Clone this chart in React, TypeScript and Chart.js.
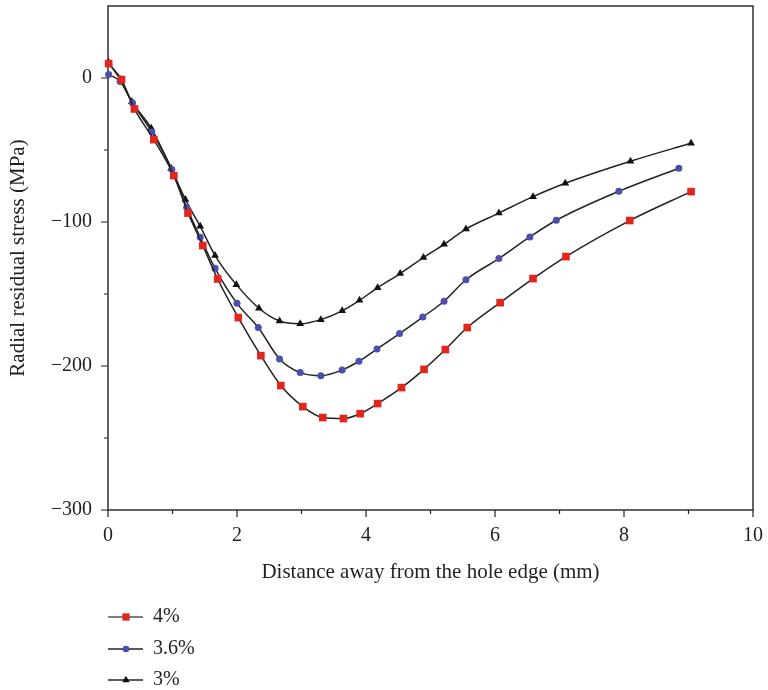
import React, { useEffect, useRef } from 'react';
import { Chart, registerables } from 'chart.js';

Chart.register(...registerables);

// ---- Data ----
const SERIES_LABELS = ['4%', '3.6%', '3%'];

const X_4 = [0.01, 0.21, 0.41, 0.71, 1.02, 1.24, 1.47, 1.70, 2.02, 2.37, 2.68, 3.02, 3.33, 3.65, 3.91, 4.18, 4.55, 4.90, 5.23, 5.57, 6.08, 6.59, 7.10, 8.09, 9.04];
const Y_4 = [10, -1.1, -21.5, -42.8, -67.8, -93.8, -116.4, -139.6, -166.4, -192.8, -213.6, -228.2, -235.8, -236.5, -233.1, -226.1, -215, -202.3, -188.6, -173.3, -156, -139.3, -124, -99, -78.9];

const X_36 = [0.01, 0.19, 0.38, 0.68, 0.99, 1.22, 1.43, 1.66, 2.00, 2.33, 2.66, 2.98, 3.30, 3.63, 3.89, 4.17, 4.52, 4.88, 5.21, 5.55, 6.06, 6.54, 6.95, 7.92, 8.85];
const Y_36 = [2.4, -2.5, -17.4, -37.5, -63.6, -90, -110.6, -132.2, -156.5, -173.3, -195.1, -204.6, -206.7, -202.8, -196.7, -188.2, -177.5, -166, -155, -140.1, -125.4, -110.4, -98.8, -78.7, -62.7];

const X_3 = [0.01, 0.19, 0.37, 0.67, 0.98, 1.20, 1.43, 1.66, 1.99, 2.34, 2.66, 2.98, 3.30, 3.63, 3.90, 4.18, 4.53, 4.89, 5.21, 5.55, 6.06, 6.59, 7.09, 8.10, 9.04];
const Y_3 = [10.7, -1.1, -16.5, -34.9, -62.9, -84.4, -103, -123.3, -143.5, -159.9, -168.8, -170.7, -167.8, -161.7, -154.4, -145.6, -135.8, -124.7, -115.5, -104.9, -93.8, -82.4, -73.1, -57.8, -45.3];

const X_TICKS = [0, 2, 4, 6, 8, 10];
const X_MINOR = [1, 3, 5, 7, 9];
const Y_TICKS = [-300, -200, -100, 0];
const Y_MINOR = [-250, -150, -50];

const X_TITLE = 'Distance away from the hole edge (mm)';
const Y_TITLE = 'Radial residual stress (MPa)';

// ---- Styles ----
const FONT = "'Liberation Serif', 'Times New Roman', serif";
const TEXT_COLOR = '#231f20';
const LINE_COLOR = '#222';
const MARKERS = [
  { style: 'rect', color: '#e1261c', radius: 5.4 },
  { style: 'circle', color: '#4a4fae', radius: 3.5 },
  { style: 'triangle', color: '#111', radius: 4.5 },
];

const toPoints = (xs: number[], ys: number[]) => xs.map((x, i) => ({ x, y: ys[i] }));
const SERIES = [toPoints(X_4, Y_4), toPoints(X_36, Y_36), toPoints(X_3, Y_3)];

const fmt = (v: number) => (v < 0 ? '\u2212' + Math.abs(v) : String(v));

function drawMarker(ctx: CanvasRenderingContext2D, style: string, x: number, y: number, r: number, color: string) {
  ctx.fillStyle = color;
  ctx.beginPath();
  if (style === 'rect') {
    const s = Math.SQRT1_2 * r;
    ctx.rect(x - s, y - s, 2 * s, 2 * s);
  } else if (style === 'circle') {
    ctx.arc(x, y, r, 0, Math.PI * 2);
  } else {
    let a = 0;
    ctx.moveTo(x + Math.sin(a) * r, y - Math.cos(a) * r);
    a += (2 * Math.PI) / 3;
    ctx.lineTo(x + Math.sin(a) * r, y - Math.cos(a) * r);
    a += (2 * Math.PI) / 3;
    ctx.lineTo(x + Math.sin(a) * r, y - Math.cos(a) * r);
    ctx.closePath();
  }
  ctx.fill();
}

const framePlugin = {
  id: 'frameTicks',
  beforeDatasetsDraw(chart: any) {
    const { ctx, chartArea: a, scales } = chart;
    const xs = scales.x;
    const ys = scales.y;
    ctx.save();
    ctx.strokeStyle = LINE_COLOR;
    ctx.lineWidth = 1.4;
    ctx.strokeRect(a.left, a.top, a.right - a.left, a.bottom - a.top);
    ctx.lineWidth = 1.2;
    ctx.beginPath();
    X_TICKS.forEach((v) => {
      const p = xs.getPixelForValue(v);
      ctx.moveTo(p, a.bottom);
      ctx.lineTo(p, a.bottom + 7);
    });
    X_MINOR.forEach((v) => {
      const p = xs.getPixelForValue(v);
      ctx.moveTo(p, a.bottom);
      ctx.lineTo(p, a.bottom + 4);
    });
    Y_TICKS.forEach((v) => {
      const p = ys.getPixelForValue(v);
      ctx.moveTo(a.left, p);
      ctx.lineTo(a.left - 7, p);
    });
    Y_MINOR.forEach((v) => {
      const p = ys.getPixelForValue(v);
      ctx.moveTo(a.left, p);
      ctx.lineTo(a.left - 4, p);
    });
    ctx.stroke();
    ctx.restore();
  },
  afterDraw(chart: any) {
    const { ctx, chartArea: a } = chart;
    ctx.save();
    const rows = [107, 139, 170];
    SERIES_LABELS.forEach((label, i) => {
      const y = a.bottom + rows[i];
      const x0 = a.left;
      ctx.strokeStyle = i === 0 ? '#555' : LINE_COLOR;
      ctx.lineWidth = 1.5;
      ctx.beginPath();
      ctx.moveTo(x0, y);
      ctx.lineTo(x0 + 35, y);
      ctx.stroke();
      const m = MARKERS[i];
      drawMarker(ctx, m.style, x0 + 18, y, m.radius * 0.95, m.color);
      ctx.fillStyle = TEXT_COLOR;
      ctx.font = `20px ${FONT}`;
      ctx.textBaseline = 'middle';
      ctx.textAlign = 'left';
      ctx.fillText(label, x0 + 45, y);
    });
    ctx.restore();
  },
};

export default function App() {
  const ref = useRef<HTMLCanvasElement | null>(null);

  useEffect(() => {
    document.body.style.margin = '0';
    const canvas = ref.current;
    if (!canvas) return;
    const chart = new Chart(canvas, {
      type: 'line',
      data: {
        datasets: SERIES.map((pts, i) => ({
          label: SERIES_LABELS[i],
          data: pts,
          borderColor: LINE_COLOR,
          borderWidth: 1.5,
          pointStyle: MARKERS[i].style as any,
          pointRadius: MARKERS[i].radius,
          pointBackgroundColor: MARKERS[i].color,
          pointBorderColor: MARKERS[i].color,
          pointBorderWidth: 0,
          cubicInterpolationMode: 'monotone' as const,
          fill: false,
          clip: false as any,
        })),
      },
      plugins: [framePlugin],
      options: {
        animation: false,
        responsive: false,
        devicePixelRatio: 1,
        layout: { padding: { top: 6, right: 15, left: 0, bottom: 0 } },
        plugins: {
          legend: { display: false },
          tooltip: { enabled: false },
        },
        scales: {
          x: {
            type: 'linear',
            min: 0,
            max: 10,
            grid: { display: false, drawTicks: false },
            border: { display: false },
            afterBuildTicks: (s: any) => {
              s.ticks = X_TICKS.map((v) => ({ value: v }));
            },
            afterFit: (s: any) => {
              s.height = 180;
              s.paddingLeft = 0;
              s.paddingRight = 0;
            },
            ticks: {
              padding: 14,
              color: TEXT_COLOR,
              font: { family: FONT, size: 20 },
              maxRotation: 0,
              callback: (v: any) => fmt(Number(v)),
            },
            title: {
              display: true,
              text: X_TITLE,
              color: TEXT_COLOR,
              font: { family: FONT, size: 21 },
              padding: { top: 0, bottom: 105 },
            },
          },
          y: {
            type: 'linear',
            min: -300,
            max: 50,
            grid: { display: false, drawTicks: false },
            border: { display: false },
            afterBuildTicks: (s: any) => {
              s.ticks = Y_TICKS.map((v) => ({ value: v }));
            },
            afterFit: (s: any) => {
              s.width = 108;
              s.paddingTop = 0;
              s.paddingBottom = 0;
            },
            ticks: {
              padding: 16,
              color: TEXT_COLOR,
              font: { family: FONT, size: 20 },
              callback: (v: any) => fmt(Number(v)),
            },
            title: {
              display: true,
              text: Y_TITLE,
              color: TEXT_COLOR,
              font: { family: FONT, size: 21 },
              padding: { top: 6, bottom: 0 },
            },
          },
        },
      },
    });
    return () => chart.destroy();
  }, []);

  return <canvas ref={ref} width={768} height={690} style={{ display: 'block' }} />;
}
